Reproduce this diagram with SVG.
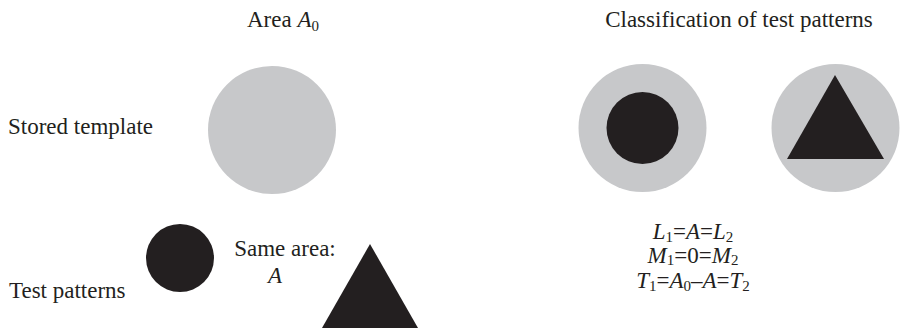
<svg xmlns="http://www.w3.org/2000/svg" width="906" height="328" viewBox="0 0 906 328">
<style>
text{font-family:'Liberation Serif','DejaVu Serif',serif;font-size:23px;fill:#231f20}
.i{font-style:italic}
.sub{font-size:15px}
.mid{text-anchor:middle}
.tpl{fill:#c7c8ca}
.blk{fill:#231f20}
</style>
<rect width="906" height="328" fill="#fff"/>
<g id="labels">
<text x="283" y="27" class="mid">Area <tspan class="i">A</tspan><tspan class="sub" dy="4">0</tspan></text>
<text x="8" y="134">Stored template</text>
<text x="9" y="298">Test patterns</text>
<text x="285" y="256" class="mid">Same area:</text>
<text x="275" y="283" class="i mid">A</text>
<text x="739" y="27" class="mid">Classification of test patterns</text>
</g>
<g id="stored-template">
<circle class="tpl" cx="272" cy="130" r="64"/>
</g>
<g id="test-circle">
<circle class="blk" cx="180" cy="258" r="34"/>
</g>
<g id="test-triangle">
<polygon class="blk" points="370,244 322,328 418,328"/>
</g>
<g id="class-circle">
<circle class="tpl" cx="642.5" cy="128" r="64"/>
<circle class="blk" cx="642.5" cy="128" r="36"/>
</g>
<g id="class-triangle">
<circle class="tpl" cx="835.5" cy="128" r="64"/>
<polygon class="blk" points="835,75 787,159 884,159"/>
</g>
<g id="equations">
<text x="693" y="239" class="mid"><tspan class="i">L</tspan><tspan class="sub" dy="3">1</tspan><tspan dy="-3">=</tspan><tspan class="i">A</tspan>=<tspan class="i">L</tspan><tspan class="sub" dy="3">2</tspan></text>
<text x="693" y="263" class="mid"><tspan class="i">M</tspan><tspan class="sub" dy="2">1</tspan><tspan dy="-2">=0=</tspan><tspan class="i">M</tspan><tspan class="sub" dy="2">2</tspan></text>
<text x="693" y="288" class="mid"><tspan class="i">T</tspan><tspan class="sub" dy="3">1</tspan><tspan dy="-3">=</tspan><tspan class="i">A</tspan><tspan class="sub" dy="3">0</tspan><tspan dy="-3">–</tspan><tspan class="i">A</tspan>=<tspan class="i">T</tspan><tspan class="sub" dy="3">2</tspan></text>
</g>
</svg>
